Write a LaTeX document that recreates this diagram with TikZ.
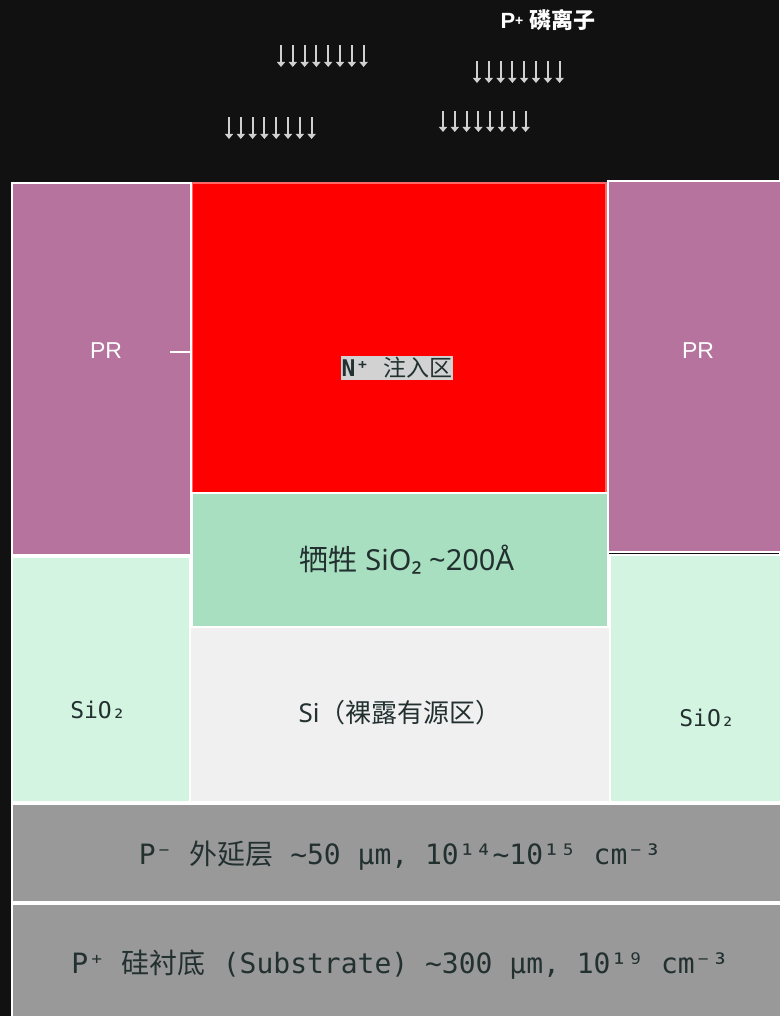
\documentclass[tikz,border=0pt]{standalone}
\usepackage{fontspec}
\setmainfont{Noto Sans}
\newfontfamily\cjk{Noto Sans CJK SC}
\newfontfamily\mono{DejaVu Sans Mono}
\newfontfamily\arial{Liberation Sans}
\usetikzlibrary{arrows.meta}
\definecolor{bgc}{HTML}{111111}
\definecolor{prc}{HTML}{B5739E}
\definecolor{redc}{HTML}{FF0000}
\definecolor{sacc}{HTML}{A8DFC0}
\definecolor{sic}{HTML}{F0F0F0}
\definecolor{oxc}{HTML}{D4F4E2}
\definecolor{epic}{HTML}{999999}
\definecolor{txt}{HTML}{233030}
\definecolor{arr}{HTML}{D0D0D0}
\tikzset{
  region/.style={rectangle, anchor=north west, inner sep=0pt, outer sep=0pt, draw=white, line width=1.3pt},
  ionarrow/.style={draw=arr, line width=2pt, -{Triangle[width=8pt,length=5pt]}},
  prlabel/.style={text=white, font=\arial\fontsize{23}{26}\selectfont},
  monolabel/.style={text=txt, font=\mono\fontsize{23}{26}\selectfont},
  layerlabel/.style={text=txt, font=\mono\fontsize{28}{32}\selectfont},
}
\begin{document}
\begin{tikzpicture}[x=1pt,y=-1pt]
\useasboundingbox (0,0) rectangle (779,1016);
\fill[bgc] (0,0) rectangle (779,1016);
% regions
\node[region, fill=redc, draw=red!60!white, minimum width=414pt, minimum height=310pt] (red) at (192,183) {};
\node[region, fill=sacc, minimum width=416pt, minimum height=134pt] (sac) at (192,493) {};
\node[region, fill=sic, minimum width=421pt, minimum height=175pt] (si) at (190,627) {};
\node[region, fill=oxc, minimum width=178pt, minimum height=245pt] (lox) at (12,557) {};
\node[region, fill=oxc, minimum width=175pt, minimum height=247pt] (rox) at (610,555) {};
\node[region, fill=prc, minimum width=179pt, minimum height=372pt] (lpr) at (12,183) {};
\node[region, fill=prc, minimum width=178pt, minimum height=371pt] (rpr) at (608,181) {};
\node[region, fill=epic, minimum width=780pt, minimum height=98pt] (epi) at (12,804) {};
\node[region, fill=epic, minimum width=780pt, minimum height=120pt] (sub) at (12,904) {};
% ion arrows
\foreach \x in {0,...,7} {
  \draw[ionarrow] (281+11.8*\x,45) -- (281+11.8*\x,67);
  \draw[ionarrow] (477+11.8*\x,61) -- (477+11.8*\x,83);
  \draw[ionarrow] (229+11.8*\x,117) -- (229+11.8*\x,139);
  \draw[ionarrow] (443+11.8*\x,111) -- (443+11.8*\x,132);
}
\node[text=white, font=\arial\bfseries\fontsize{22}{24}\selectfont] (ion) at (548,20) {P\raisebox{0.25ex}{\fontsize{14}{14}\selectfont+} {\cjk\bfseries 磷离子}};
% labels
\node[prlabel] (lprl) at (106,351) {PR};
\node[prlabel] (rprl) at (698,351) {PR};
\coordinate (tick) at (170,352);
\draw[white, line width=1.2pt] (tick) -- (tick -| red.west);
\node[fill=gray!35, inner sep=1pt, text=txt, font=\mono\bfseries\fontsize{23}{26}\selectfont] (nlab) at (397,368) {N⁺ {\cjk\mdseries 注入区}};
\node[text=txt, font=\fontsize{29}{32}\selectfont] (sacl) at (407,560) {{\cjk 牺牲} SiO₂ \textasciitilde200Å};
\node[text=txt, font=\fontsize{26}{30}\selectfont] (sil) at (400,713) {Si{\cjk （裸露有源区）}};
\node[monolabel] (loxl) at (98,710) {SiO₂};
\node[monolabel] (roxl) at (707,718) {SiO₂};
\node[layerlabel] (epil) at (400,856) {P⁻ {\cjk 外延层} \textasciitilde50 μm, 10¹⁴\textasciitilde10¹⁵ cm⁻³};
\node[layerlabel] (subl) at (400,965) {P⁺ {\cjk 硅衬底} (Substrate) \textasciitilde300 μm, 10¹⁹ cm⁻³};
\end{tikzpicture}
\end{document}
